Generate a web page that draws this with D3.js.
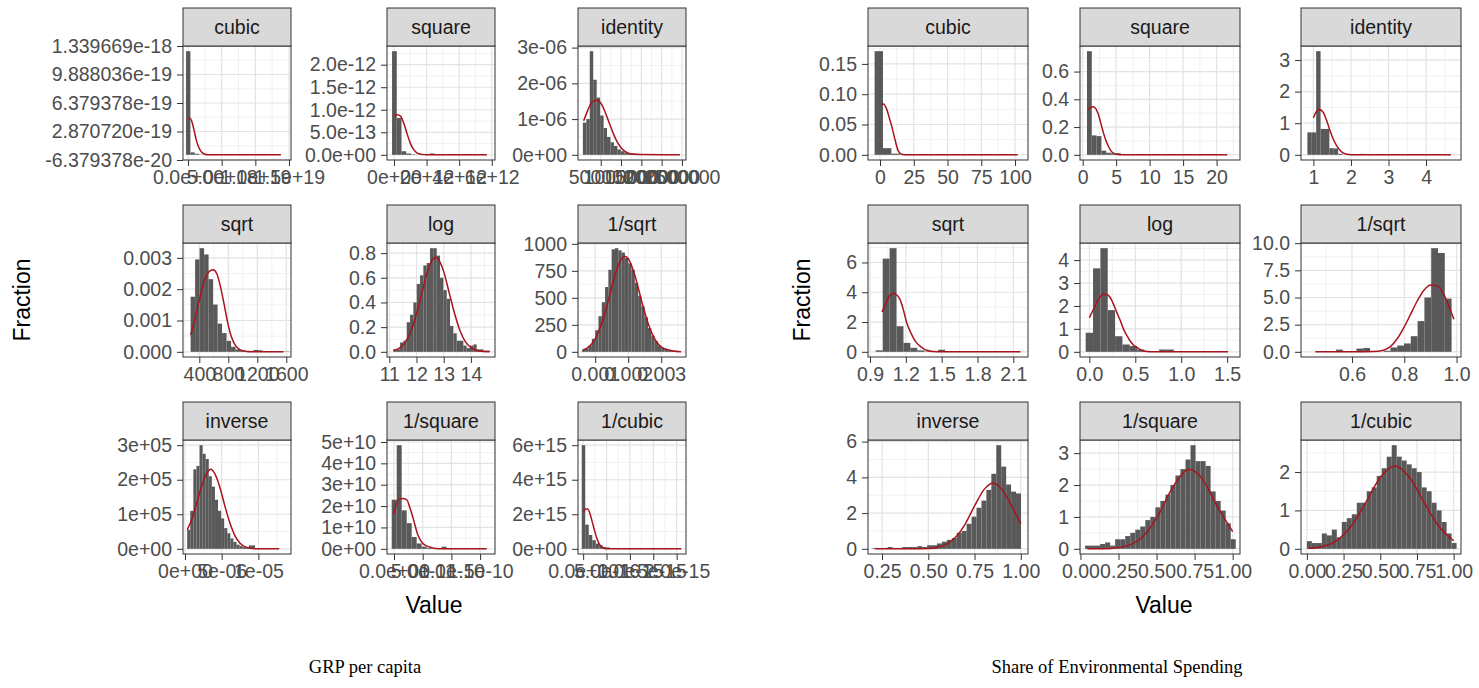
<!DOCTYPE html>
<html><head><meta charset="utf-8">
<script src="https://cdn.jsdelivr.net/npm/d3@7"></script>
<style>body{margin:0;background:#fff}</style>
</head><body>
<svg id="chart" width="1479" height="688"></svg>
<script>
// ---------- shared ----------
const panelNames = ["cubic","square","identity","sqrt","log","1/sqrt","inverse","1/square","1/cubic"];
const figureTitles = ["GRP per capita","Share of Environmental Spending"];
const xAxisTitle = "Value";
const yAxisTitle = "Fraction";

// ---------- GRP per capita ----------
const grpXLimits = [[-0.75e18,15.3e18],[-0.43e12,6.2e12],[-60000,2600000],[175,1665],[10.915,14.886],[0.00048,0.00375],[-0.27e-6,14.44e-6],[-0.122e-10,1.76e-10],[-1.1e-16,2.2e-15]];
const grpXTicks = [[0,5e18,1e19,1.5e19],[0,2e12,4e12,6e12],[500000,1000000,1500000,2000000,2500000],[400,800,1200,1600],[11,12,13,14],[0.001,0.002,0.003],[0,5e-6,1e-5],[0,5e-11,1e-10,1.5e-10],[0,5e-16,1e-15,1.5e-15,2e-15]];
const grpXTickLabels = [["0.0e+00","5.0e+18","1.0e+19","1.5e+19"],["0e+00","2e+12","4e+12","6e+12"],["500000","1000000","1500000","2000000","2500000"],["400","800","1200","1600"],["11","12","13","14"],["0.001","0.002","0.003"],["0e+00","5e-06","1e-05"],["0.0e+00","5.0e-11","1.0e-10","1.5e-10"],["0.0e+00","5.0e-16","1.0e-15","1.5e-15","2.0e-15"]];
const grpYTicks = [[-6.379378e-20,2.870720e-19,6.379378e-19,9.888036e-19,1.339669e-18],[0,5e-13,1e-12,1.5e-12,2e-12],[0,1e-6,2e-6,3e-6],[0,0.001,0.002,0.003],[0,0.2,0.4,0.6,0.8],[0,250,500,750,1000],[0,1e5,2e5,3e5],[0,1e10,2e10,3e10,4e10,5e10],[0,2e15,4e15,6e15]];
const grpYTickLabels = [["-6.379378e-20","2.870720e-19","6.379378e-19","9.888036e-19","1.339669e-18"],["0.0e+00","5.0e-13","1.0e-12","1.5e-12","2.0e-12"],["0e+00","1e-06","2e-06","3e-06"],["0.000","0.001","0.002","0.003"],["0.0","0.2","0.4","0.6","0.8"],["0","250","500","750","1000"],["0e+00","1e+05","2e+05","3e+05"],["0e+00","1e+10","2e+10","3e+10","4e+10","5e+10"],["0e+00","2e+15","4e+15","6e+15"]];
const grpBinStart = [-0.3e18,-0.12e12,60000,280,11.15,0.0006,0.3e-6,-0.4e-11,-0.3e-16];
const grpBinWidth = [0.65e18,0.29e12,85000,62,0.1225,0.0001,0.42e-6,0.87e-11,0.75e-16];
const grpBinHeights = [
  [1.2758756e-18,0.03e-18,0.012e-18,0.004e-18],
  [2.30e-12,0.82e-12,0.08e-12,0.03e-12,0.01e-12,0,0,0,0.03e-12],
  [0.9e-6,1.0e-6,2.9e-6,2.1e-6,1.6e-6,1.1e-6,0.75e-6,0.5e-6,0.35e-6,0.25e-6,0.15e-6,0.1e-6,0.07e-6,0.05e-6,0.04e-6,0.03e-6,0.02e-6,0.02e-6,0.01e-6,0.01e-6,0.01e-6,0,0,0.01e-6,0.01e-6,0,0,0.01e-6],
  [1.76e-3,2.95e-3,3.31e-3,3.11e-3,2.32e-3,1.51e-3,0.9e-3,0.6e-3,0.35e-3,0.16e-3,0.08e-3,0.05e-3,0.03e-3,0.03e-3,0.06e-3,0.05e-3,0.02e-3,0.01e-3,0.01e-3,0,0.01e-3,0.01e-3],
  [0.02,0.02,0.076,0.09,0.24,0.30,0.40,0.55,0.62,0.70,0.72,0.84,0.84,0.78,0.60,0.50,0.43,0.21,0.15,0.09,0.09,0.05,0.03,0.05,0.06,0.02,0.02,0.01,0.01],
  [20,30,60,120,200,330,460,600,760,950,960,940,920,870,820,760,640,520,420,320,220,150,100,60,40,30,20,10,10,5],
  [0.55e5,1.1e5,2.3e5,2.4e5,3.0e5,2.75e5,2.6e5,2.1e5,1.8e5,1.42e5,1.1e5,0.88e5,0.6e5,0.45e5,0.3e5,0.2e5,0.12e5,0.08e5,0.05e5,0.03e5,0.1e5,0.1e5,0.02e5,0,0,0,0,0,0,0.02e5],
  [2.3e10,4.85e10,1.8e10,1.2e10,0.55e10,0.25e10,0.1e10,0.05e10,0,0,0.1e10],
  [6.0e15,1.4e15,0.8e15,0.5e15,0.3e15,0.2e15,0.1e15,0.08e15,0.05e15,0.03e15,0.02e15]
];
const grpCurveX = [
  [0.1e18,0.3e18,0.6e18,0.9e18,1.2e18,1.6e18,2.0e18,2.4e18,3.0e18,13.8e18],
  [0,0.2e12,0.4e12,0.6e12,0.8e12,1.0e12,1.2e12,1.4e12,1.7e12,2.0e12,5.7e12],
  [80000,150000,250000,350000,420000,500000,600000,700000,800000,900000,1000000,1150000,1300000,2450000],
  [281,330,380,430,480,530,590,640,690,740,790,840,900,960,1050,1150,1560],
  [11.15,11.5,11.8,12.0,12.2,12.4,12.6,12.7,12.8,13.0,13.2,13.4,13.6,13.8,14.0,14.3,14.68],
  [0.00063,0.0008,0.001,0.0012,0.0014,0.0016,0.0018,0.0019,0.002,0.0022,0.0024,0.0026,0.0028,0.003,0.0032,0.0036],
  [0.31e-6,1.0e-6,1.7e-6,2.4e-6,3.0e-6,3.5e-6,4.0e-6,4.7e-6,5.4e-6,6.1e-6,6.8e-6,7.5e-6,8.3e-6,9.5e-6,12.8e-6],
  [0,0.75e-11,1.5e-11,2.2e-11,2.8e-11,3.36e-11,4.2e-11,5.1e-11,6.3e-11,7.3e-11,8.5e-11,16.15e-11],
  [0.06e-16,0.5e-16,1.0e-16,1.5e-16,2.0e-16,2.5e-16,3.0e-16,3.5e-16,4.0e-16,4.5e-16,5.0e-16,21e-16]
];
const grpCurveY = [
  [0.44e-18,0.45e-18,0.40e-18,0.30e-18,0.19e-18,0.09e-18,0.035e-18,0.01e-18,0,0],
  [0.88e-12,0.89e-12,0.86e-12,0.70e-12,0.47e-12,0.26e-12,0.12e-12,0.045e-12,0.01e-12,0,0],
  [0.95e-6,1.16e-6,1.42e-6,1.52e-6,1.53e-6,1.45e-6,1.22e-6,0.92e-6,0.62e-6,0.37e-6,0.2e-6,0.06e-6,0.015e-6,0],
  [0.54e-3,0.95e-3,1.45e-3,1.95e-3,2.35e-3,2.55e-3,2.62e-3,2.5e-3,2.1e-3,1.55e-3,0.95e-3,0.5e-3,0.2e-3,0.07e-3,0.01e-3,0,0],
  [0.01,0.054,0.17,0.31,0.48,0.65,0.75,0.767,0.75,0.65,0.48,0.31,0.17,0.08,0.034,0.007,0.001],
  [17,45,120,264,478,710,865,886,865,710,478,264,120,45,17,0.5],
  [0.55e5,0.9e5,1.4e5,1.9e5,2.2e5,2.3e5,2.2e5,1.82e5,1.27e5,0.76e5,0.38e5,0.16e5,0.05e5,0.005e5,0],
  [1.63e10,2.3e10,2.35e10,2.3e10,1.9e10,1.4e10,0.62e10,0.23e10,0.08e10,0.01e10,0,0],
  [2.1e15,2.3e15,2.3e15,2.0e15,1.5e15,1.0e15,0.55e15,0.25e15,0.1e15,0.03e15,0,0]
];

// ---------- Share of Environmental Spending ----------
const envXLimits = [[-8.9,109.6],[-0.4,23.5],[0.67,4.93],[0.883,2.223],[-0.102,1.64],[0.405,1.017],[0.174,1.039],[-0.003,1.048],[-0.04,1.05]];
const envXTicks = [[0,25,50,75,100],[0,5,10,15,20],[1,2,3,4],[0.9,1.2,1.5,1.8,2.1],[0,0.5,1,1.5],[0.6,0.8,1.0],[0.25,0.5,0.75,1],[0,0.25,0.5,0.75,1],[0,0.25,0.5,0.75,1]];
const envXTickLabels = [["0","25","50","75","100"],["0","5","10","15","20"],["1","2","3","4"],["0.9","1.2","1.5","1.8","2.1"],["0.0","0.5","1.0","1.5"],["0.6","0.8","1.0"],["0.25","0.50","0.75","1.00"],["0.00","0.25","0.50","0.75","1.00"],["0.00","0.25","0.50","0.75","1.00"]];
const envYTicks = [[0,0.05,0.1,0.15],[0,0.2,0.4,0.6],[0,1,2,3],[0,2,4,6],[0,1,2,3,4],[0,2.5,5,7.5,10],[0,2,4,6],[0,1,2,3],[0,1,2]];
const envYTickLabels = [["0.00","0.05","0.10","0.15"],["0.0","0.2","0.4","0.6"],["0","1","2","3"],["0","2","4","6"],["0","1","2","3","4"],["0.0","2.5","5.0","7.5","10.0"],["0","2","4","6"],["0","1","2","3"],["0","1","2"]];
const envBinStart = [-4.0,0.64,0.84,0.948,-0.04,0.461,0.2,0.03,0.0];
const envBinWidth = [6.2,0.72,0.117,0.058,0.08,0.026,0.0267,0.033,0.034];
const envBinHeights = [
  [0.171,0.011,0.002],
  [0.747,0.14,0.135,0.03,0.015,0.01,0.012,0.005],
  [0.71,0.71,3.28,0.82,0.82,0.21,0.2,0.03,0,0,0,0,0.03],
  [0.1,6.26,6.96,1.72,0.6,0.27,0.1,0.03,0,0.14],
  [0.83,3.64,4.52,1.82,0.68,0.32,0.25,0.1,0.03,0,0.1,0.1],
  [0,0,0,0.2,0,0,0.3,0.35,0,0,0.1,0.4,0.58,0.77,1.44,2.83,5.0,9.54,9.1,4.9],
  [0.05,0,0.05,0.1,0.05,0.05,0.1,0.1,0.1,0.15,0.1,0.2,0.2,0.3,0.4,0.5,0.6,0.9,1.0,1.4,1.8,2.3,2.7,3.3,4.2,5.8,4.6,3.6,3.2,3.1],
  [0.1,0.1,0.1,0.15,0.2,0.1,0.3,0.3,0.4,0.5,0.6,0.7,0.9,1.0,1.3,1.5,1.7,2.0,2.3,2.5,2.8,3.25,2.75,2.75,2.6,1.8,1.5,1.2,0.8,0.3],
  [0.2,0.15,0.15,0.4,0.35,0.5,0.3,0.7,0.8,0.9,1.2,1.2,1.5,1.6,1.9,2.1,2.4,2.7,2.4,2.3,2.2,2.1,2.0,1.6,1.5,1.2,1.0,0.7,0.4,0.15]
];
const envCurveX = [
  [1,2.5,5,7,8.7,11.1,13.6,16,20,102],
  [0.7,1.2,1.6,2.0,2.35,2.7,3.1,3.5,3.86,4.2,4.6,5.2,6,21.6],
  [1.0,1.07,1.13,1.2,1.27,1.36,1.45,1.54,1.63,1.72,1.8,1.9,2.0,2.2,4.66],
  [1.0,1.03,1.06,1.095,1.12,1.151,1.18,1.207,1.235,1.263,1.29,1.319,1.35,1.375,1.43,1.5,2.16],
  [0,0.05,0.1,0.153,0.19,0.227,0.26,0.3,0.34,0.373,0.41,0.446,0.48,0.52,0.59,0.67,0.75,1.51],
  [0.46,0.6,0.68,0.72,0.748,0.773,0.8,0.825,0.85,0.876,0.902,0.928,0.953,0.972,0.99],
  [0.213,0.4,0.5,0.55,0.6,0.65,0.7,0.75,0.8,0.85,0.9,0.95,1.0],
  [0.045,0.1,0.2,0.3,0.4,0.5,0.6,0.7,0.72,0.8,0.9,1.0],
  [0.01,0.1,0.2,0.3,0.4,0.5,0.6,0.7,0.8,0.9,1.0]
];
const envCurveY = [
  [0.083,0.084,0.075,0.06,0.047,0.025,0.006,0.001,0,0],
  [0.327,0.342,0.347,0.33,0.29,0.23,0.158,0.1,0.06,0.03,0.012,0.003,0,0],
  [1.17,1.35,1.44,1.42,1.33,1.06,0.74,0.47,0.265,0.13,0.054,0.015,0.003,0,0],
  [2.67,3.2,3.7,3.93,3.85,3.52,2.8,1.95,1.4,0.94,0.6,0.38,0.2,0.11,0.02,0,0],
  [1.49,1.9,2.3,2.51,2.5,2.37,2.1,1.71,1.33,0.98,0.7,0.46,0.3,0.18,0.04,0.005,0,0],
  [0,0,0.02,0.15,0.5,1.2,2.3,3.5,4.7,5.7,6.15,6.05,5.2,4.1,3.0],
  [0,0.002,0.02,0.078,0.26,0.67,1.4,2.4,3.3,3.69,3.3,2.4,1.4],
  [0,0.001,0.013,0.085,0.34,0.96,1.88,2.47,2.49,2.2,1.32,0.54],
  [0.013,0.056,0.21,0.58,1.2,1.86,2.16,1.86,1.2,0.58,0.21]
];

// ---------- layout ----------
const svg = d3.select("#chart");
const FONT = "'Liberation Sans', Arial, sans-serif";
const TICK_FS = 19.5, STRIP_FS = 19.5, TITLE_FS = 23;
const rowTops = [8, 205, 402];
const stripH = 38, panelH = 114;

const figures = [
  {cols:[183,387,578], pw:108, xl:grpXLimits, xt:grpXTicks, xtl:grpXTickLabels, yt:grpYTicks, ytl:grpYTickLabels,
   bs:grpBinStart, bw:grpBinWidth, bh:grpBinHeights, cx:grpCurveX, cy:grpCurveY,
   yTitleX:22, xTitleX:434, captionX:365, title:figureTitles[0]},
  {cols:[868,1080,1301], pw:160, xl:envXLimits, xt:envXTicks, xtl:envXTickLabels, yt:envYTicks, ytl:envYTickLabels,
   bs:envBinStart, bw:envBinWidth, bh:envBinHeights, cx:envCurveX, cy:envCurveY,
   yTitleX:802, xTitleX:1164, captionX:1117, title:figureTitles[1]}
];

function minorBreaks(ticks, dom){
  const out = [];
  if (ticks.length < 2) return out;
  const step = ticks[1]-ticks[0];
  const all = [ticks[0]-step, ...ticks, ticks[ticks.length-1]+step];
  for (let i=0;i<all.length-1;i++){
    const m = (all[i]+all[i+1])/2;
    if (m>=Math.min(...dom) && m<=Math.max(...dom)) out.push(m);
  }
  return out;
}

figures.forEach(f => {
  const g = svg.append("g");
  panelNames.forEach((name, i) => {
    const col = i % 3, row = Math.floor(i/3);
    const x0 = f.cols[col], top = rowTops[row];
    const py0 = top + stripH, py1 = py0 + panelH;
    const heights = f.bh[i];
    const M = Math.max(d3.max(heights), d3.max(f.cy[i]));
    const xs = d3.scaleLinear().domain(f.xl[i]).range([x0, x0 + f.pw]);
    const ys = d3.scaleLinear().domain([-0.05*M, 1.05*M]).range([py1, py0]);
    const p = g.append("g");

    p.append("rect").attr("x",x0).attr("y",py0).attr("width",f.pw).attr("height",panelH).attr("fill","#fff");
    minorBreaks(f.xt[i], xs.domain()).forEach(v => p.append("line")
      .attr("x1",xs(v)).attr("x2",xs(v)).attr("y1",py0).attr("y2",py1)
      .attr("stroke","#EBEBEB").attr("stroke-width",0.7));
    minorBreaks(f.yt[i], ys.domain()).forEach(v => p.append("line")
      .attr("y1",ys(v)).attr("y2",ys(v)).attr("x1",x0).attr("x2",x0+f.pw)
      .attr("stroke","#EBEBEB").attr("stroke-width",0.7));
    f.xt[i].forEach(v => p.append("line")
      .attr("x1",xs(v)).attr("x2",xs(v)).attr("y1",py0).attr("y2",py1)
      .attr("stroke","#E3E3E3").attr("stroke-width",1.2));
    f.yt[i].forEach(v => p.append("line")
      .attr("y1",ys(v)).attr("y2",ys(v)).attr("x1",x0).attr("x2",x0+f.pw)
      .attr("stroke","#E3E3E3").attr("stroke-width",1.2));

    const bins = heights.map((h, k) => ({x0: f.bs[i] + k*f.bw[i], x1: f.bs[i] + (k+1)*f.bw[i], h}));
    p.selectAll("rect.bar").data(bins.filter(b => b.h > 0)).join("rect").attr("class","bar")
      .attr("x", b => xs(b.x0)).attr("width", b => Math.max(0, xs(b.x1) - xs(b.x0)))
      .attr("y", b => ys(b.h)).attr("height", b => ys(0) - ys(b.h))
      .attr("fill","#595959");

    const pts = f.cx[i].map((x, k) => [x, f.cy[i][k]]);
    p.append("path").datum(pts)
      .attr("d", d3.line().x(d => xs(d[0])).y(d => ys(d[1])).curve(d3.curveMonotoneX))
      .attr("fill","none").attr("stroke","#A8141C").attr("stroke-width",1.5);

    p.append("rect").attr("x",x0).attr("y",py0).attr("width",f.pw).attr("height",panelH)
      .attr("fill","none").attr("stroke","#333").attr("stroke-width",1);
    p.append("rect").attr("x",x0).attr("y",top).attr("width",f.pw).attr("height",stripH)
      .attr("fill","#D9D9D9").attr("stroke","#333").attr("stroke-width",1);
    p.append("text").attr("x",x0+f.pw/2).attr("y",top+stripH/2).attr("dy","0.36em")
      .attr("text-anchor","middle").attr("font-family",FONT).attr("font-size",STRIP_FS)
      .attr("fill","#1A1A1A").text(name);

    const xAxis = d3.axisBottom(xs).tickValues(f.xt[i]).tickFormat((d,k) => f.xtl[i][k]).tickSize(6).tickPadding(4);
    const ax = p.append("g").attr("transform",`translate(0,${py1})`).call(xAxis);
    ax.select(".domain").remove();
    ax.selectAll("line").attr("stroke","#333");
    ax.selectAll("text").attr("font-family",FONT).attr("font-size",TICK_FS).attr("fill","#4D4D4D");

    const yAxis = d3.axisLeft(ys).tickValues(f.yt[i]).tickFormat((d,k) => f.ytl[i][k]).tickSize(6).tickPadding(5);
    const ay = p.append("g").attr("transform",`translate(${x0},0)`).call(yAxis);
    ay.select(".domain").remove();
    ay.selectAll("line").attr("stroke","#333");
    ay.selectAll("text").attr("font-family",FONT).attr("font-size",TICK_FS).attr("fill","#4D4D4D");
  });

  g.append("text").attr("transform",`translate(${f.yTitleX},300) rotate(-90)`).attr("dy","0.36em")
    .attr("text-anchor","middle").attr("font-family",FONT).attr("font-size",TITLE_FS).attr("fill","#000").text(yAxisTitle);
  g.append("text").attr("x",f.xTitleX).attr("y",613)
    .attr("text-anchor","middle").attr("font-family",FONT).attr("font-size",TITLE_FS).attr("fill","#000").text(xAxisTitle);
  g.append("text").attr("x",f.captionX).attr("y",673)
    .attr("text-anchor","middle").attr("font-family","'Liberation Serif','Times New Roman',serif")
    .attr("font-size",18.5).attr("fill","#000").text(f.title);
});
</script>
</body></html>
